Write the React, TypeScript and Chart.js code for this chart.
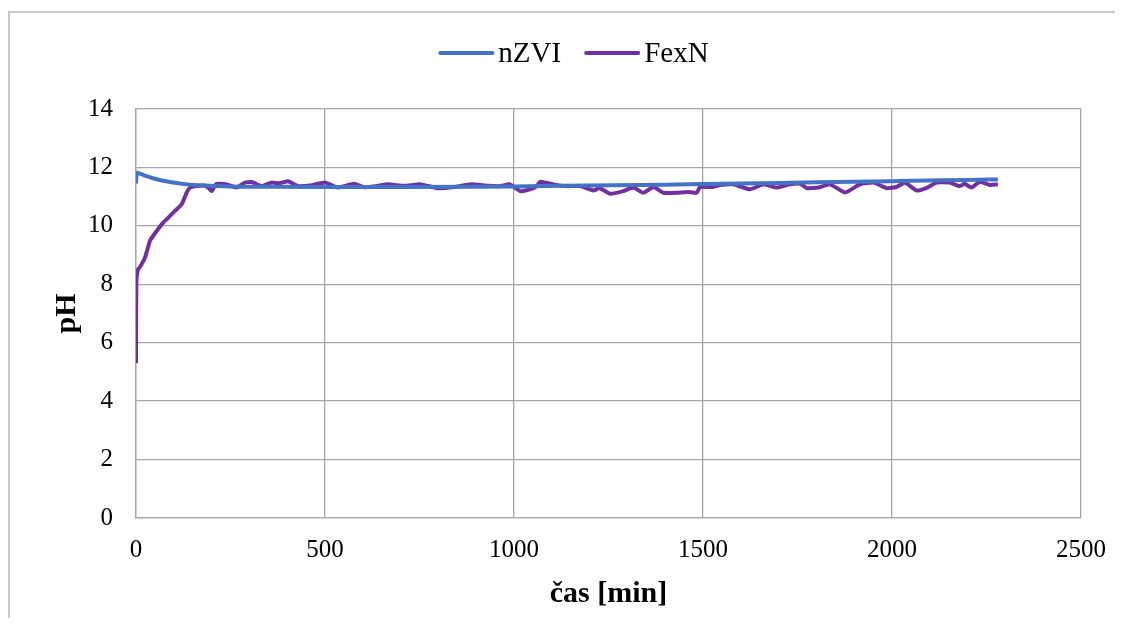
import React, { useEffect, useRef } from "react";
import { Chart, registerables } from "chart.js";

Chart.register(...registerables);

const seriesNames = ["nZVI", "FexN"];
const seriesColors = ["#4472C4", "#7030A0"];

const nzviTime = [0, 2, 20, 45, 90, 135, 180, 250, 350, 500, 700, 900, 1000, 1200, 1400, 1500, 1700, 1900, 2000, 2100, 2200, 2280];
const nzviPH = [11.45, 11.82, 11.74, 11.63, 11.5, 11.42, 11.38, 11.35, 11.34, 11.33, 11.33, 11.34, 11.35, 11.38, 11.41, 11.43, 11.47, 11.51, 11.53, 11.55, 11.57, 11.59];

const fexnTime = [
  0, 1, 5, 11, 24, 37, 55, 72, 90, 103, 121, 134, 143, 161, 180, 192, 200, 213, 240, 266,
  288, 306, 332, 358, 380, 402, 429, 460, 502, 533, 577, 604, 635, 666, 710, 754, 798, 842, 886, 930,
  963, 989, 1016, 1042, 1060, 1069, 1104, 1139, 1175, 1210, 1227, 1254, 1289, 1316, 1342, 1369, 1395, 1430, 1460, 1483,
  1492, 1527, 1545, 1580, 1624, 1660, 1695, 1730, 1757, 1775, 1805, 1836, 1876, 1915, 1951, 1986, 2012, 2034, 2065, 2090,
  2118, 2153, 2179, 2192, 2210, 2232, 2259, 2280,
];
const fexnPH = [
  5.3, 8.1, 8.5, 8.6, 8.92, 9.49, 9.83, 10.11, 10.34, 10.51, 10.74, 11.14, 11.31, 11.36, 11.38, 11.3, 11.19, 11.44, 11.42, 11.31,
  11.48, 11.5, 11.36, 11.48, 11.46, 11.53, 11.36, 11.38, 11.48, 11.31, 11.44, 11.32, 11.36, 11.42, 11.37, 11.42, 11.29, 11.33, 11.42, 11.37,
  11.36, 11.42, 11.19, 11.25, 11.36, 11.51, 11.42, 11.36, 11.36, 11.21, 11.29, 11.1, 11.19, 11.31, 11.13, 11.33, 11.13, 11.13, 11.16, 11.13,
  11.33, 11.33, 11.4, 11.42, 11.25, 11.42, 11.31, 11.42, 11.44, 11.29, 11.31, 11.42, 11.14, 11.42, 11.48, 11.29, 11.33, 11.48, 11.21, 11.29,
  11.48, 11.48, 11.36, 11.44, 11.31, 11.51, 11.4, 11.42,
];

const xMin = 0;
const xMax = 2500;
const xStep = 500;
const yMin = 0;
const yMax = 14;
const yStep = 2;
const xTitle = "čas [min]";
const yTitle = "pH";

const FONT = '"Liberation Serif", "Times New Roman", serif';
const GRID = "#a6a6a6";

const legendPlugin = {
  id: "excelLegend",
  afterDraw(chart: any) {
    const ctx = chart.ctx as CanvasRenderingContext2D;
    ctx.save();
    ctx.font = `29px ${FONT}`;
    const lineW = 54;
    const gap = 5;
    const itemGap = 24;
    const items = chart.data.datasets.map((d: any) => ({
      label: d.label as string,
      color: d.borderColor as string,
      w: ctx.measureText(d.label).width,
    }));
    const total =
      items.reduce((s: number, it: any) => s + lineW + gap + it.w, 0) + itemGap * (items.length - 1);
    let x = 566 - total / 2;
    const lineY = 45;
    const textY = 54;
    for (const it of items) {
      ctx.strokeStyle = it.color;
      ctx.lineWidth = 4;
      ctx.lineCap = "round";
      ctx.beginPath();
      ctx.moveTo(x + 1, lineY);
      ctx.lineTo(x + lineW - 1, lineY);
      ctx.stroke();
      ctx.fillStyle = "#000";
      ctx.textBaseline = "alphabetic";
      ctx.textAlign = "left";
      ctx.fillText(it.label, x + lineW + gap, textY);
      x += lineW + gap + it.w + itemGap;
    }
    ctx.restore();
  },
};

export default function App() {
  const ref = useRef<HTMLCanvasElement | null>(null);

  useEffect(() => {
    if (!ref.current) return;
    const chart = new Chart(ref.current, {
      type: "line",
      data: {
        datasets: [
          {
            label: seriesNames[0],
            data: nzviTime.map((t, i) => ({ x: t, y: nzviPH[i] })),
            borderColor: seriesColors[0],
            backgroundColor: seriesColors[0],
            borderWidth: 4,
            pointRadius: 0,
            cubicInterpolationMode: "monotone",
          },
          {
            label: seriesNames[1],
            data: fexnTime.map((t, i) => ({ x: t, y: fexnPH[i] })),
            borderColor: seriesColors[1],
            backgroundColor: seriesColors[1],
            borderWidth: 4,
            pointRadius: 0,
            tension: 0.15,
          },
        ],
      },
      options: {
        animation: false,
        responsive: false,
        devicePixelRatio: 1,
        layout: { padding: { top: 101, right: 38, bottom: 0, left: 0 } },
        plugins: {
          legend: { display: false },
          tooltip: { enabled: false },
        },
        scales: {
          x: {
            type: "linear",
            min: xMin,
            max: xMax,
            afterFit: (s: any) => {
              s.height = 100;
            },
            ticks: {
              stepSize: xStep,
              color: "#000",
              font: { family: FONT, size: 25 },
              padding: 17,
              maxRotation: 0,
              callback: (v: any) => String(v),
            },
            grid: { color: GRID, lineWidth: 1.3, drawTicks: false },
            border: { color: GRID, width: 1.3 },
            title: {
              display: true,
              text: xTitle,
              color: "#000",
              font: { family: FONT, size: 30, weight: "bold" },
              padding: { top: 0, bottom: 6 },
            },
          },
          y: {
            type: "linear",
            min: yMin,
            max: yMax,
            afterFit: (s: any) => {
              s.width = 128;
            },
            ticks: {
              stepSize: yStep,
              color: "#000",
              font: { family: FONT, size: 25 },
              padding: 23,
              callback: (v: any) => String(v),
            },
            grid: { color: GRID, lineWidth: 1.3, drawTicks: false },
            border: { color: GRID, width: 1.3 },
            title: {
              display: true,
              text: yTitle,
              color: "#000",
              font: { family: FONT, size: 30, weight: "bold" },
              padding: { top: 41, bottom: 0 },
            },
          },
        },
      } as any,
      plugins: [legendPlugin],
    });
    return () => chart.destroy();
  }, []);

  return (
    <div style={{ position: "relative", width: 1115, height: 610, overflow: "hidden" }}>
      <div
        style={{
          position: "absolute",
          left: 0,
          top: 3,
          width: 1115,
          height: 607,
          borderTop: "2px solid #c8c8c8",
          borderLeft: "2px solid #c8c8c8",
          boxSizing: "border-box",
        }}
      />
      <canvas
        ref={ref}
        width={1115}
        height={610}
        style={{ position: "absolute", left: 0, top: 0, width: 1115, height: 610 }}
      />
    </div>
  );
}
